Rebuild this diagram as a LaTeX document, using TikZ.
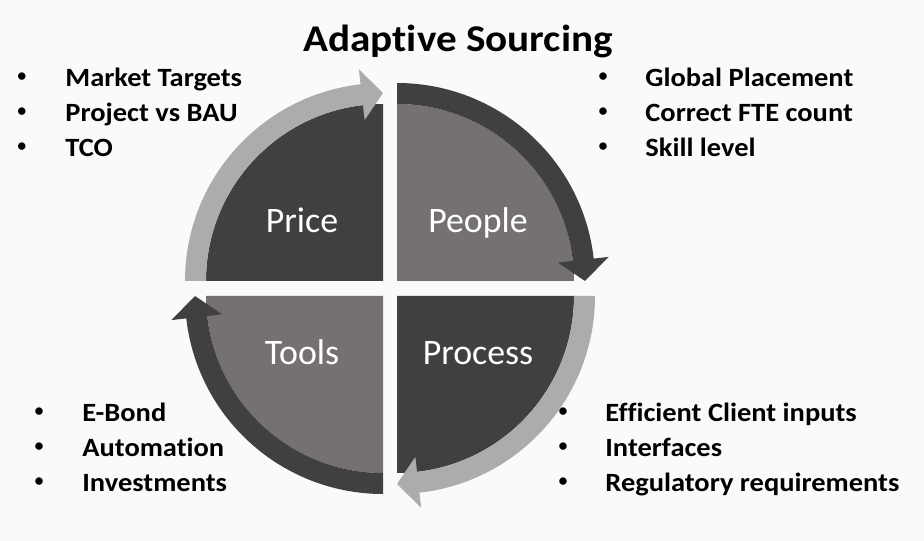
\documentclass[tikz,border=0pt]{standalone}
\usepackage{fontspec}
\setmainfont{Carlito}[Ligatures=NoCommon]
\usetikzlibrary{calc}
\definecolor{darkq}{HTML}{404040}
\definecolor{midq}{HTML}{767171}
\definecolor{lightq}{HTML}{AEABAB}
\definecolor{paper}{HTML}{FAFAFA}

\begin{document}
\begin{tikzpicture}[
    x=0.02cm, y=0.02cm,
    item/.style={anchor=base west, inner sep=0pt, xscale=1.08, transform shape,
      font=\fontsize{15}{18}\selectfont\bfseries},
    dot/.style={anchor=center, inner sep=0pt, font=\fontsize{12}{14}\selectfont},
    qname/.style={anchor=base, inner sep=0pt, text=white, font=\fontsize{20.4}{24}\selectfont},
    headline/.style={anchor=base, inner sep=0pt, xscale=1.09, transform shape,
      font=\fontsize{21.5}{26}\selectfont\bfseries}
]
\useasboundingbox (0,0) rectangle (924,541);
\fill[paper] (0,0) rectangle (924,541);

% quarters and sweep arrows
\foreach \cx/\cy/\a/\body/\band in {383/260/180/darkq/lightq, 397/260/90/midq/darkq,
    397/245/0/darkq/lightq, 383/245/270/midq/darkq}{
  \begin{scope}[shift={(\cx,\cy)}]
    \fill[\body] (0,0) -- (\a:177) arc[start angle=\a, end angle=\a-90, radius=177] -- cycle;
    \fill[\band] (\a:177) -- (\a:198) arc[start angle=\a, end angle=\a-83.5, radius=198]
      -- (\a-83.5:213) -- (\a-90:188) -- (\a-83.5:162) -- (\a-83.5:177)
      arc[start angle=\a-83.5, end angle=\a, radius=177] -- cycle;
  \end{scope}
}

% quarter names
\node[qname] (price) at (302,308) {Price};
\node[qname] (people) at (478,308) {People};
\node[qname] (tools) at (302,176) {Tools};
\node[qname] (process) at (478,176) {Process};

% title
\node[headline] (title) at (458,489) {Adaptive Sourcing};

% bullet lists
\foreach \txt [count=\i from 0] in {Market Targets, Project vs BAU, TCO}{
  \node[dot] (pb\i) at (22,463-35*\i) {\textbullet};
  \node[item] (pt\i) at (65,454-35*\i) {\txt};
}
\foreach \txt [count=\i from 0] in {Global Placement, Correct FTE count, Skill level}{
  \node[dot] (hb\i) at (603,463-35*\i) {\textbullet};
  \node[item] (ht\i) at (645,454-35*\i) {\txt};
}
\foreach \txt [count=\i from 0] in {E-Bond, Automation, Investments}{
  \node[dot] (tb\i) at (39,128-35*\i) {\textbullet};
  \node[item] (tt\i) at (82,119-35*\i) {\txt};
}
\foreach \txt [count=\i from 0] in {Efficient Client inputs, Interfaces, Regulatory requirements}{
  \node[dot] (cb\i) at (563,128-35*\i) {\textbullet};
  \node[item] (ct\i) at (605,119-35*\i) {\txt};
}
\end{tikzpicture}
\end{document}
